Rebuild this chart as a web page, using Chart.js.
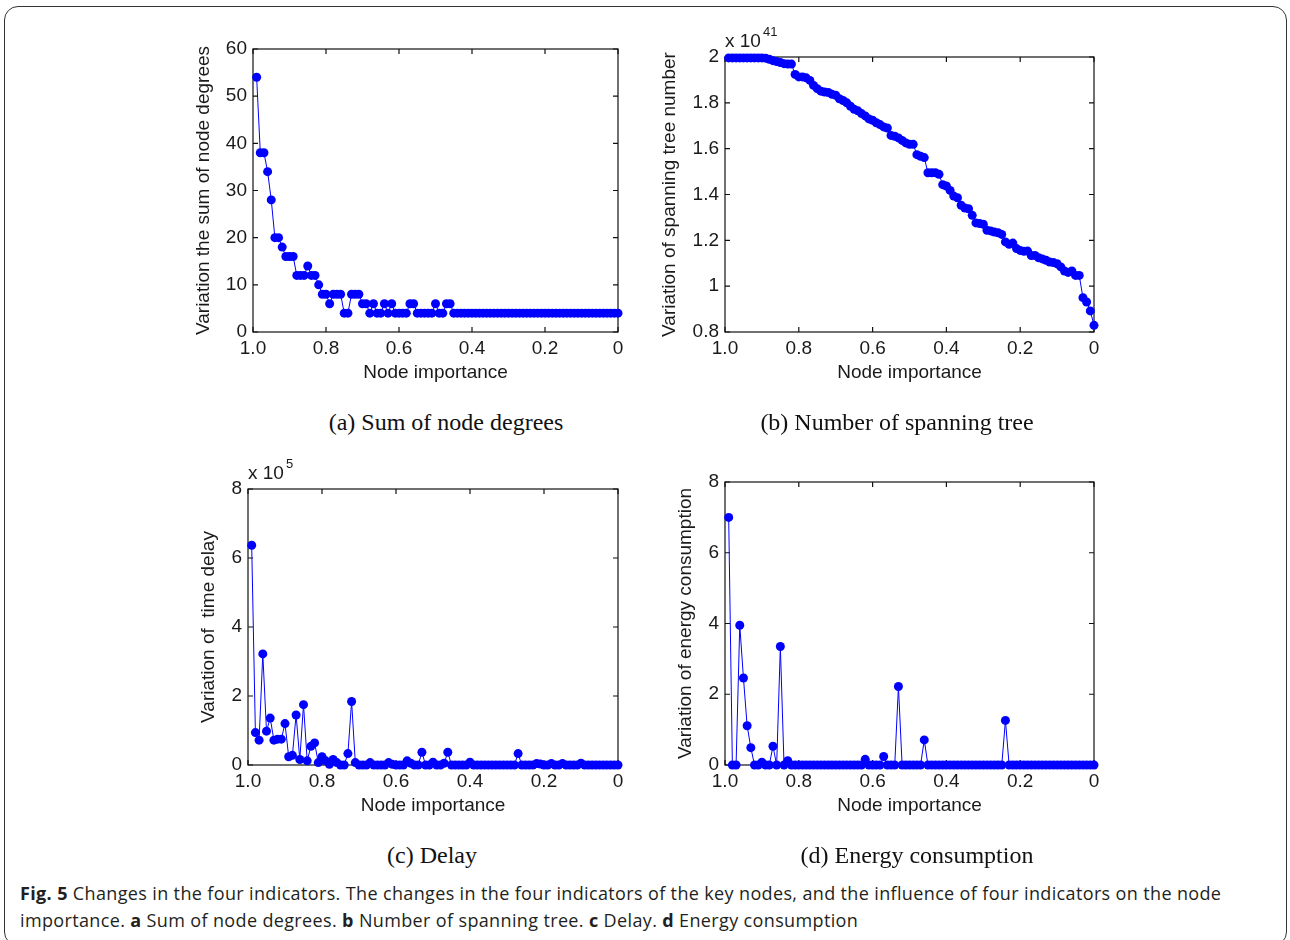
<!DOCTYPE html>
<html>
<head>
<meta charset="utf-8">
<script src="https://cdn.jsdelivr.net/npm/chart.js@4.4.0/dist/chart.umd.min.js"></script>
<style>
body { margin: 0; background: #fff; }
#page { position: relative; width: 1290px; height: 940px; overflow: hidden; }
#frame { position: absolute; left: 4px; top: 6px; width: 1283px; height: 940px; border: 1.5px solid #333; border-radius: 14px; box-sizing: border-box; }
canvas { position: absolute; }
.cap { position: absolute; font-family: "Liberation Serif"; font-size: 24px; line-height: 27px; color: #111; transform: translateX(-50%); white-space: nowrap; }
#figcap { position: absolute; left: 20px; top: 880px; width: 1260px; font-family: "Open Sans"; font-size: 18px; letter-spacing: 0.36px; line-height: 27px; color: #231f20; white-space: nowrap; }
</style>
</head>
<body>
<div id="page">
  <div id="frame"></div>
  <canvas id="plotA"></canvas>
  <canvas id="plotB"></canvas>
  <canvas id="plotC"></canvas>
  <canvas id="plotD"></canvas>
  <div class="cap" style="left:446px;top:409px">(a) Sum of node degrees</div>
  <div class="cap" style="left:897px;top:409px">(b) Number of spanning tree</div>
  <div class="cap" style="left:432px;top:842px">(c) Delay</div>
  <div class="cap" style="left:917px;top:842px">(d) Energy consumption</div>
  <div id="figcap"><b>Fig. 5</b> Changes in the four indicators. The changes in the four indicators of the key nodes, and the influence of four indicators on the node<br>importance. <b>a</b> Sum of node degrees. <b>b</b> Number of spanning tree. <b>c</b> Delay. <b>d</b> Energy consumption</div>
</div>
<script>
// node importance (x axis), 1.0 on the left
var importance = [0.99, 0.98, 0.97, 0.96, 0.95, 0.94, 0.93, 0.92, 0.91, 0.90,
  0.89, 0.88, 0.87, 0.86, 0.85, 0.84, 0.83, 0.82, 0.81, 0.80,
  0.79, 0.78, 0.77, 0.76, 0.75, 0.74, 0.73, 0.72, 0.71, 0.70,
  0.69, 0.68, 0.67, 0.66, 0.65, 0.64, 0.63, 0.62, 0.61, 0.60,
  0.59, 0.58, 0.57, 0.56, 0.55, 0.54, 0.53, 0.52, 0.51, 0.50,
  0.49, 0.48, 0.47, 0.46, 0.45, 0.44, 0.43, 0.42, 0.41, 0.40,
  0.39, 0.38, 0.37, 0.36, 0.35, 0.34, 0.33, 0.32, 0.31, 0.30,
  0.29, 0.28, 0.27, 0.26, 0.25, 0.24, 0.23, 0.22, 0.21, 0.20,
  0.19, 0.18, 0.17, 0.16, 0.15, 0.14, 0.13, 0.12, 0.11, 0.10,
  0.09, 0.08, 0.07, 0.06, 0.05, 0.04, 0.03, 0.02, 0.01, 0.00];

// (a) variation of the sum of node degrees
var degreeSum = [54, 38, 38, 34, 28, 20, 20, 18, 16, 16,
  16, 12, 12, 12, 14, 12, 12, 10, 8, 8,
  6, 8, 8, 8, 4, 4, 8, 8, 8, 6,
  6, 4, 6, 4, 4, 6, 4, 6, 4, 4,
  4, 4, 6, 6, 4, 4, 4, 4, 4, 6,
  4, 4, 6, 6, 4, 4, 4, 4, 4, 4,
  4, 4, 4, 4, 4, 4, 4, 4, 4, 4,
  4, 4, 4, 4, 4, 4, 4, 4, 4, 4,
  4, 4, 4, 4, 4, 4, 4, 4, 4, 4,
  4, 4, 4, 4, 4, 4, 4, 4, 4, 4];

// (b) variation of spanning tree number, x 10^41
var spanningTree = [1.996, 1.996, 1.996, 1.996, 1.996, 1.996, 1.996, 1.996, 1.996, 1.996,
  1.995, 1.99, 1.984, 1.98, 1.976, 1.971, 1.969, 1.969, 1.924, 1.913,
  1.913, 1.909, 1.898, 1.876, 1.862, 1.851, 1.847, 1.845, 1.837, 1.833,
  1.818, 1.81, 1.80, 1.785, 1.772, 1.765, 1.753, 1.743, 1.73, 1.724,
  1.713, 1.705, 1.695, 1.69, 1.658, 1.654, 1.647, 1.636, 1.625, 1.619,
  1.619, 1.574, 1.567, 1.561, 1.495, 1.495, 1.495, 1.488, 1.443, 1.437,
  1.418, 1.393, 1.386, 1.353, 1.341, 1.338, 1.309, 1.276, 1.273, 1.27,
  1.244, 1.241, 1.236, 1.233, 1.226, 1.193, 1.183, 1.188, 1.164, 1.156,
  1.152, 1.153, 1.134, 1.134, 1.124, 1.119, 1.113, 1.105, 1.103, 1.098,
  1.084, 1.066, 1.06, 1.066, 1.047, 1.047, 0.95, 0.931, 0.892, 0.829];

// (c) variation of time delay, x 10^5
var delay = [6.37, 0.94, 0.72, 3.22, 0.98, 1.36, 0.72, 0.75, 0.75, 1.2,
  0.24, 0.28, 1.45, 0.16, 1.75, 0.12, 0.54, 0.64, 0.07, 0.24,
  0.12, 0.02, 0.16, 0.07, 0, 0, 0.33, 1.84, 0.07, 0,
  0, 0, 0.07, 0, 0, 0, 0, 0.07, 0.02, 0,
  0, 0, 0.12, 0.05, 0, 0, 0.37, 0, 0, 0.08,
  0, 0, 0.05, 0.37, 0, 0, 0, 0, 0, 0.08,
  0, 0, 0, 0, 0, 0, 0, 0, 0, 0,
  0, 0, 0.33, 0, 0, 0, 0, 0.04, 0.03, 0,
  0, 0.04, 0, 0, 0.04, 0, 0, 0, 0, 0.05,
  0, 0, 0, 0, 0, 0, 0, 0, 0, 0];

// (d) variation of energy consumption
var energy = [7.0, 0, 0, 3.95, 2.46, 1.11, 0.49, 0, 0, 0.08,
  0, 0, 0.53, 0, 3.35, 0, 0.12, 0, 0, 0,
  0, 0, 0, 0, 0, 0, 0, 0, 0, 0,
  0, 0, 0, 0, 0, 0, 0, 0.16, 0, 0,
  0, 0, 0.24, 0, 0, 0, 2.22, 0, 0, 0,
  0, 0, 0, 0.71, 0, 0, 0, 0, 0, 0,
  0, 0, 0, 0, 0, 0, 0, 0, 0, 0,
  0, 0, 0, 0, 0, 1.26, 0, 0, 0, 0,
  0, 0, 0, 0, 0, 0, 0, 0, 0, 0,
  0, 0, 0, 0, 0, 0, 0, 0, 0, 0];

var tickFont = { family: 'Liberation Sans', size: 19 };
var ink = '#1a1a1a';
var yAxisW = 90, xAxisH = 73, padTop = 40, padRight = 20;

// box round the plot with inward ticks on all four sides, like matlab
var boxTicks = {
  id: 'boxTicks',
  beforeDatasetsDraw(chart) {
    var ctx = chart.ctx, a = chart.chartArea, x = chart.scales.x, y = chart.scales.y;
    ctx.save();
    ctx.strokeStyle = '#111';
    ctx.lineWidth = 1.2;
    ctx.strokeRect(a.left, a.top, a.right - a.left, a.bottom - a.top);
    ctx.beginPath();
    x.ticks.forEach(function (t) {
      var px = x.getPixelForValue(t.value);
      ctx.moveTo(px, a.bottom); ctx.lineTo(px, a.bottom - 5);
      ctx.moveTo(px, a.top); ctx.lineTo(px, a.top + 5);
    });
    y.ticks.forEach(function (t) {
      var py = y.getPixelForValue(t.value);
      ctx.moveTo(a.left, py); ctx.lineTo(a.left + 5, py);
      ctx.moveTo(a.right, py); ctx.lineTo(a.right - 5, py);
    });
    ctx.stroke();
    ctx.restore();
  },
  afterDraw(chart) {
    var exp = chart.options.plugins.boxTicks.exponent;
    if (!exp) return;
    var ctx = chart.ctx, a = chart.chartArea;
    ctx.save();
    ctx.fillStyle = ink;
    ctx.textBaseline = 'alphabetic';
    ctx.font = '19px "Liberation Sans"';
    ctx.fillText('x 10', a.left, a.top - 10);
    var w = ctx.measureText('x 10').width;
    ctx.font = '13px "Liberation Sans"';
    ctx.fillText(exp, a.left + w + 2, a.top - 21);
    ctx.restore();
  }
};

function makePanel(id, area, series, yMin, yMax, yStep, yTitle, titleGap, exponent) {
  var canvas = document.getElementById(id);
  canvas.width = area.right - area.left + yAxisW + padRight;
  canvas.height = area.bottom - area.top + padTop + xAxisH;
  canvas.style.left = (area.left - yAxisW) + 'px';
  canvas.style.top = (area.top - padTop) + 'px';
  new Chart(canvas, {
    type: 'line',
    data: {
      datasets: [{
        data: importance.map(function (v, i) { return { x: v, y: series[i] }; }),
        borderColor: '#0000ff',
        backgroundColor: '#0000ff',
        borderWidth: 1,
        pointRadius: 4.5,
        pointBorderWidth: 0,
        pointBackgroundColor: '#0000ff',
        tension: 0,
        clip: false
      }]
    },
    options: {
      responsive: false,
      animation: false,
      layout: { padding: { top: padTop, right: padRight, left: 0, bottom: 0 } },
      plugins: { legend: { display: false }, tooltip: { enabled: false }, boxTicks: { exponent: exponent } },
      scales: {
        x: {
          type: 'linear', reverse: true, min: 0, max: 1,
          grid: { display: false, drawTicks: false }, border: { display: false },
          ticks: {
            stepSize: 0.2, padding: 5, font: tickFont, color: ink, maxRotation: 0,
            callback: function (v) { return v === 1 ? '1.0' : v === 0 ? '0' : v.toFixed(1); }
          },
          title: { display: true, text: 'Node importance', font: tickFont, color: ink, padding: { top: 0, bottom: 20.5 } },
          afterFit: function (s) { s.height = xAxisH; }
        },
        y: {
          min: yMin, max: yMax,
          grid: { display: false, drawTicks: false }, border: { display: false },
          ticks: {
            stepSize: yStep, padding: 6, font: tickFont, color: ink,
            callback: function (v) { return String(+v.toFixed(1)); }
          },
          title: { display: true, text: yTitle, font: tickFont, color: ink, padding: { top: yAxisW - titleGap - 11.4, bottom: 0 } },
          afterFit: function (s) { s.width = yAxisW; }
        }
      }
    },
    plugins: [boxTicks]
  });
}

makePanel('plotA', { left: 253, top: 49, right: 618, bottom: 332 }, degreeSum, 0, 60, 10, 'Variation the sum of node degrees', 49, null);
makePanel('plotB', { left: 725, top: 57, right: 1094, bottom: 332 }, spanningTree, 0.8, 2, 0.2, 'Variation of spanning tree number', 55, '41');
makePanel('plotC', { left: 248, top: 489, right: 618, bottom: 765 }, delay, 0, 8, 2, 'Variation of  time delay', 39, '5');
makePanel('plotD', { left: 725, top: 482, right: 1094, bottom: 765 }, energy, 0, 8, 2, 'Variation of energy consumption', 39, null);
</script>
</body>
</html>
